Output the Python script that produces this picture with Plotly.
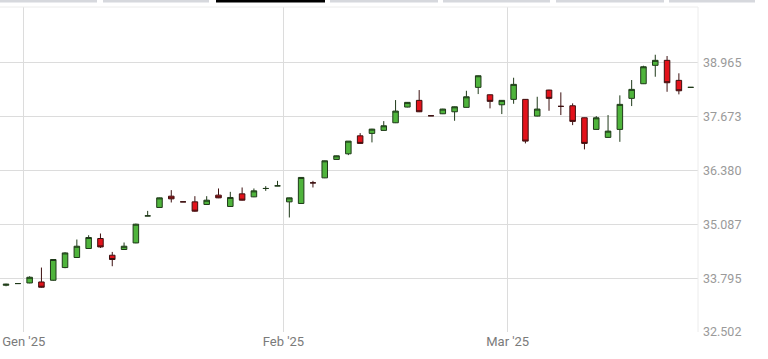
import plotly.graph_objects as go

# ---------------- data ----------------
dates = [
    "2024-12-30", "2024-12-31",
    "2025-01-02", "2025-01-03", "2025-01-06", "2025-01-07", "2025-01-08", "2025-01-09", "2025-01-10",
    "2025-01-13", "2025-01-14", "2025-01-15", "2025-01-16", "2025-01-17",
    "2025-01-20", "2025-01-21", "2025-01-22", "2025-01-23", "2025-01-24",
    "2025-01-27", "2025-01-28", "2025-01-29", "2025-01-30", "2025-01-31",
    "2025-02-03", "2025-02-04", "2025-02-05", "2025-02-06", "2025-02-07",
    "2025-02-10", "2025-02-11", "2025-02-12", "2025-02-13", "2025-02-14",
    "2025-02-18", "2025-02-19", "2025-02-20", "2025-02-21",
    "2025-02-24", "2025-02-25", "2025-02-26", "2025-02-27", "2025-02-28",
    "2025-03-03", "2025-03-04", "2025-03-05", "2025-03-06", "2025-03-07",
    "2025-03-10", "2025-03-11", "2025-03-12", "2025-03-13", "2025-03-14",
    "2025-03-17", "2025-03-18", "2025-03-19", "2025-03-20", "2025-03-21",
    "2025-03-24",
]

opens = [
    33.624, 33.665, 33.679, 33.703, 33.744, 34.049, 34.290, 34.506, 34.746, 34.345,
    34.482, 34.640, 35.289, 35.491, 35.762, 35.626, 35.626, 35.563, 35.787, 35.515,
    35.818, 35.746, 35.947, 36.010, 35.626, 35.587, 36.082, 36.202, 36.644, 36.779,
    37.211, 37.269, 37.341, 37.524, 37.901, 38.062, 37.692, 37.740, 37.788, 37.894,
    38.374, 38.196, 37.956, 38.086, 38.086, 37.685, 38.309, 37.918, 37.932, 37.644,
    37.365, 37.173, 37.365, 38.110, 38.461, 38.903, 39.023, 38.542, 38.374,
]
highs = [
    33.660, 33.665, 33.840, 34.049, 34.250, 34.417, 34.722, 34.825, 34.866, 34.424,
    34.650, 35.102, 35.409, 35.727, 35.907, 35.626, 35.762, 35.762, 35.947, 35.866,
    35.971, 35.947, 36.003, 36.130, 35.727, 36.219, 36.130, 36.616, 36.736, 37.084,
    37.276, 37.379, 37.564, 38.069, 38.021, 38.309, 37.692, 37.860, 37.913, 38.292,
    38.658, 38.201, 38.069, 38.605, 38.093, 38.148, 38.316, 38.254, 37.990, 37.649,
    37.685, 37.709, 38.182, 38.550, 38.893, 39.157, 39.126, 38.711, 38.374,
]
lows = [
    33.600, 33.665, 33.672, 33.564, 33.732, 34.033, 34.285, 34.501, 34.520, 34.081,
    34.477, 34.633, 35.282, 35.486, 35.611, 35.626, 35.390, 35.558, 35.715, 35.510,
    35.659, 35.739, 35.890, 36.003, 35.251, 35.582, 35.971, 36.195, 36.639, 36.748,
    37.024, 37.053, 37.336, 37.517, 37.894, 37.781, 37.692, 37.733, 37.572, 37.889,
    38.213, 37.870, 37.733, 37.980, 37.029, 37.678, 37.812, 37.709, 37.468, 36.885,
    37.360, 37.168, 37.067, 37.925, 38.454, 38.629, 38.268, 38.206, 38.374,
]
closes = [
    33.648, 33.665, 33.816, 33.576, 34.242, 34.400, 34.561, 34.770, 34.544, 34.242,
    34.561, 35.090, 35.289, 35.722, 35.698, 35.626, 35.402, 35.666, 35.722, 35.731,
    35.666, 35.890, 35.947, 36.010, 35.722, 36.212, 36.082, 36.611, 36.731, 37.084,
    37.029, 37.372, 37.452, 37.805, 38.014, 37.788, 37.692, 37.853, 37.908, 38.148,
    38.653, 38.038, 38.062, 38.446, 37.084, 37.853, 38.110, 37.918, 37.557, 37.029,
    37.644, 37.324, 37.966, 38.326, 38.869, 39.023, 38.485, 38.292, 38.374,
]

y_tick_values = [32.502, 33.795, 35.087, 36.380, 37.673, 38.965]
y_tick_labels = ["32.502", "33.795", "35.087", "36.380", "37.673", "38.965"]
month_labels = {1: "Gen '25", 2: "Feb '25", 3: "Mar '25"}

# ---------------- derived axis positions ----------------
x = list(range(len(dates)))
x_tickvals, x_ticktext = [], []
prev_month = None
for i, d in enumerate(dates):
    m = int(d[5:7])
    if prev_month is not None and m != prev_month:
        x_tickvals.append(i - 0.5)
        x_ticktext.append(month_labels[m])
    prev_month = m

W, H = 768, 359
ML, MR, MT, MB = 0, 70, 7, 27
PW, PH = W - ML - MR, H - MT - MB


def px_x(p):
    return (p - ML) / PW


def px_y(r):
    return 1 - (r - MT) / PH


fig = go.Figure(
    go.Candlestick(
        x=x, open=opens, high=highs, low=lows, close=closes,
        increasing=dict(fillcolor="#4fb43c", line=dict(color="#1f3a19", width=1)),
        decreasing=dict(fillcolor="#e3121b", line=dict(color="#3d1010", width=1)),
        whiskerwidth=0,
        hoverinfo="skip",
        showlegend=False,
    )
)

# top tab strip (decoration)
tabs = [(0, 97, "#d6d8dd"), (103, 209, "#d6d8dd"), (216, 325, "#000000"),
        (330, 438, "#d6d8dd"), (443, 550, "#d6d8dd"), (556, 664, "#d6d8dd"),
        (669, 755, "#d6d8dd")]
shapes = []
for a, b, c in tabs:
    shapes.append(dict(type="rect", xref="paper", yref="paper",
                       x0=px_x(a), x1=px_x(b), y0=px_y(2.5), y1=px_y(0),
                       fillcolor=c, line=dict(width=0), layer="above"))
# plot frame (top and right)
shapes.append(dict(type="line", xref="paper", yref="paper", x0=0, x1=1, y0=1, y1=1,
                   line=dict(color="#ececec", width=1)))
shapes.append(dict(type="line", xref="paper", yref="paper", x0=1, x1=1, y0=0, y1=1,
                   line=dict(color="#ececec", width=1)))

fig.update_layout(
    width=W, height=H,
    margin=dict(l=ML, r=MR, t=MT, b=MB),
    paper_bgcolor="white", plot_bgcolor="white",
    boxgap=0.33,
    shapes=shapes,
    font=dict(family="Roboto, Open Sans, sans-serif"),
    xaxis=dict(
        range=[-0.51, 58.62],
        rangeslider=dict(visible=False),
        tickmode="array", tickvals=x_tickvals, ticktext=x_ticktext,
        showgrid=True, gridcolor="#dcdcdc", gridwidth=1,
        zeroline=False, showline=False, ticks="",
        tickfont=dict(size=13, color="#7a7a7a"),
        fixedrange=True,
    ),
    yaxis=dict(
        side="right",
        range=[32.502, 40.303],
        tickmode="array", tickvals=y_tick_values, ticktext=y_tick_labels,
        showgrid=True, gridcolor="#dcdcdc", gridwidth=1,
        zeroline=False, showline=False, ticks="",
        tickfont=dict(size=12.5, color="#9a9a9a"),
        ticklabelstandoff=4,
        fixedrange=True,
    ),
)

fig.write_html(
    "out.html",
    config={"displayModeBar": False},
    post_script="document.body.style.margin='0';document.body.style.overflow='hidden';",
)
